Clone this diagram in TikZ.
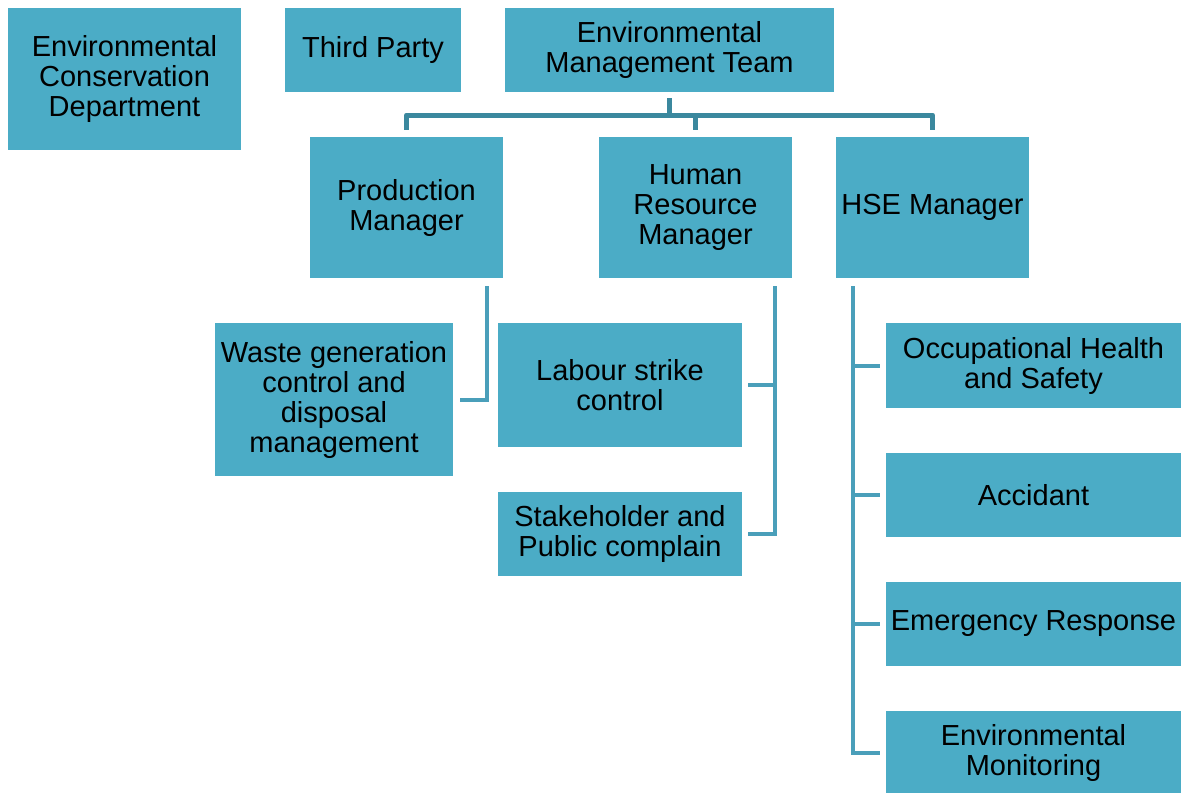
\documentclass[tikz,border=0pt]{standalone}
\usepackage{fontspec}
\setmainfont{Liberation Sans}
\definecolor{boxblue}{HTML}{4BACC6}
\definecolor{trunkblue}{HTML}{3B889E}
\definecolor{branchblue}{HTML}{4A9FBA}
\begin{document}
\begin{tikzpicture}[x=0.5pt,y=-0.5pt,
    box/.style={fill=boxblue,inner sep=0pt,align=center,font=\fontsize{14.5}{15}\selectfont},
    trunk/.style={draw=trunkblue,line width=2.5pt},
    branch/.style={draw=branchblue,line width=2pt}]
  \useasboundingbox (0,0) rectangle (1181,792);

  \node[box,minimum width=116.5pt,minimum height=71pt] (ecd) at (124.5,79) {Environmental\\Conservation\\Department};
  \node[box,minimum width=88pt,minimum height=42pt] (tp) at (373,50) {Third Party};
  \node[box,minimum width=164.5pt,minimum height=42pt] (emt) at (669.5,50) {Environmental\\Management Team};

  \node[box,minimum width=96.5pt,minimum height=70.5pt] (pm) at (406.5,207.5) {Production\\Manager};
  \node[box,minimum width=96.5pt,minimum height=70.5pt] (hr) at (695.5,207.5) {Human\\Resource\\Manager};
  \node[box,minimum width=96.5pt,minimum height=70.5pt] (hse) at (932.5,207.5) {HSE Manager};

  \node[box,minimum width=119pt,minimum height=76.5pt] (waste) at (334,399.5) {Waste generation\\control and\\disposal\\management};
  \node[box,minimum width=122pt,minimum height=62pt] (labour) at (620,385) {Labour strike\\control};
  \node[box,minimum width=122pt,minimum height=42pt] (stake) at (620,534) {Stakeholder and\\Public complain};

  \node[box,minimum width=147.5pt,minimum height=42.5pt] (ohs) at (1033.5,365.5) {Occupational Health\\and Safety};
  \node[box,minimum width=147.5pt,minimum height=42pt] (acc) at (1033.5,495) {Accidant};
  \node[box,minimum width=147.5pt,minimum height=42pt] (er) at (1033.5,624) {Emergency Response};
  \node[box,minimum width=147.5pt,minimum height=42pt] (em) at (1033.5,753) {Environmental\\Monitoring};

  % team to managers
  \coordinate (bus) at (669.5,115);
  \draw[trunk] ([yshift=-3pt]emt.south) -- (emt.south |- bus);
  \draw[trunk,line join=round] ([yshift=3.5pt]pm.north) -- (pm.north |- bus) -- (hse.north |- bus) -- ([yshift=3.5pt]hse.north);
  \draw[trunk] ([yshift=3.5pt]hr.north) -- (hr.north |- bus);

  % managers to tasks
  \coordinate (pmline) at ([xshift=-8pt,yshift=-4pt]pm.south east);
  \coordinate (hrline) at ([xshift=-8.5pt,yshift=-4pt]hr.south east);
  \coordinate (hseline) at ([xshift=8.5pt,yshift=-4pt]hse.south west);

  \draw[branch] (pmline) |- ([xshift=3.5pt]waste.east);
  \draw[branch] (hrline) |- ([xshift=3pt]stake.east);
  \draw[branch] (hrline |- labour.east) -- ([xshift=3pt]labour.east);
  \draw[branch] (hseline) |- ([xshift=-3pt]em.west);
  \foreach \n in {ohs,acc,er}
    \draw[branch] (hseline |- \n.west) -- ([xshift=-3pt]\n.west);
\end{tikzpicture}
\end{document}
